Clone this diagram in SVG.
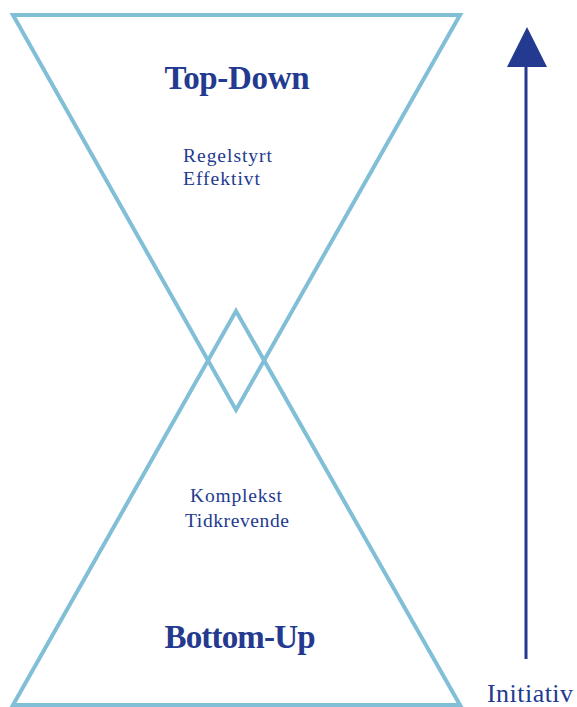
<svg xmlns="http://www.w3.org/2000/svg" width="577" height="707" viewBox="0 0 577 707">
<style>
.tri{fill:none;stroke:#80bfd6;stroke-width:4;stroke-linejoin:miter}
.t{fill:#233a90;font-family:"Liberation Serif","Times New Roman",serif}
.h{font-weight:bold;font-size:33px}
.s{font-size:19.5px}
</style>
<rect width="577" height="707" fill="#fff"/>
<g id="top-down">
<polygon class="tri" points="13,15 460,15 236,410"/>
<text class="t h" x="237" y="89" text-anchor="middle" textLength="145">Top-Down</text>
<text class="t s" x="183" y="162" textLength="89">Regelstyrt</text>
<text class="t s" x="183" y="185" textLength="77">Effektivt</text>
</g>
<g id="bottom-up">
<polygon class="tri" points="236,311 460,705 13,705"/>
<text class="t s" x="190" y="502" textLength="92">Komplekst</text>
<text class="t s" x="185" y="527" textLength="104">Tidkrevende</text>
<text class="t h" x="240" y="648" text-anchor="middle" textLength="151">Bottom-Up</text>
</g>
<g id="connectors">
<line x1="526" y1="659" x2="526" y2="64" stroke="#233a90" stroke-width="3"/>
<polygon points="527,27 547,67 507,67" fill="#233a90"/>
</g>
<g id="initiativ">
<text class="t" x="487" y="702" font-size="26" textLength="86">Initiativ</text>
</g>
</svg>
